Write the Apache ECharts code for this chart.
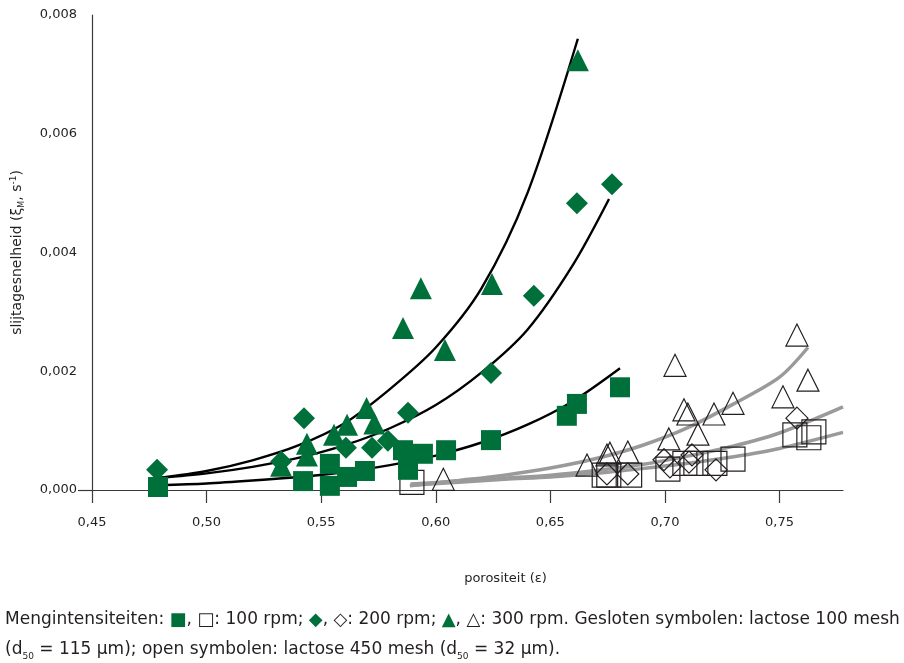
<!DOCTYPE html>
<html>
<head>
<meta charset="utf-8">
<script src="https://cdn.jsdelivr.net/npm/echarts@6/dist/echarts.min.js"></script>
<style>
html,body{margin:0;padding:0;background:#fff;}
#chart{width:904px;height:663px;}
</style>
</head>
<body>
<div id="chart"></div>
<script>
// ---- data (porositeit, slijtagesnelheid) ----
const closedSquares100 = [[0.4788,0.00005],[0.5421,0.00015],[0.5538,0.00044],[0.5538,0.00007],[0.5613,0.00022],[0.5691,0.00032],[0.5857,0.00067],[0.5879,0.00034],[0.5944,0.00061],[0.6045,0.00067],[0.6241,0.00084],[0.6572,0.00125],[0.6616,0.00145],[0.6804,0.00173]];
const closedDiamonds200 = [[0.4784,0.00034],[0.5325,0.00048],[0.5425,0.00121],[0.5608,0.00071],[0.5722,0.00071],[0.5791,0.00083],[0.5879,0.0013],[0.6241,0.00197],[0.6428,0.00327],[0.6616,0.00483],[0.6769,0.00515]];
const closedTriangles300 = [[0.5325,0.00041],[0.5438,0.00058],[0.5438,0.00078],[0.5556,0.00093],[0.5613,0.0011],[0.5698,0.00138],[0.5732,0.00112],[0.5857,0.00273],[0.5935,0.0034],[0.604,0.00236],[0.6245,0.00347],[0.662,0.00724]];
const openSquares100 = [[0.5896,0.00013],[0.6735,0.00025],[0.6755,0.00025],[0.6846,0.00025],[0.7013,0.00035],[0.7087,0.00045],[0.7135,0.00045],[0.7218,0.00045],[0.7297,0.00052],[0.7567,0.00093],[0.7628,0.00088],[0.765,0.00098]];
const openDiamonds200 = [[0.6747,0.00027],[0.6838,0.00027],[0.6996,0.00051],[0.7022,0.00039],[0.7105,0.00047],[0.7118,0.00059],[0.7223,0.00034],[0.7576,0.00121]];
const openTriangles300 = [[0.6033,0.00018],[0.666,0.00042],[0.6747,0.00059],[0.676,0.00062],[0.6838,0.00064],[0.7017,0.00086],[0.7044,0.0021],[0.7083,0.00135],[0.71,0.00128],[0.7144,0.00094],[0.7214,0.00128],[0.7297,0.00146],[0.7515,0.00157],[0.7576,0.00261],[0.7624,0.00185]];

// fitted curves
const fitClosed100 = [[0.4788,0.00008],[0.50,0.00011],[0.52,0.00016],[0.54,0.00022],[0.56,0.0003],[0.58,0.00042],[0.60,0.00058],[0.62,0.0008],[0.64,0.0011],[0.66,0.0015],[0.6804,0.00205]];
const fitClosed200 = [[0.4788,0.0002],[0.50,0.00028],[0.52,0.00039],[0.54,0.00054],[0.56,0.00075],[0.58,0.00104],[0.60,0.00143],[0.62,0.00198],[0.64,0.0027],[0.66,0.0038],[0.6756,0.0049]];
const fitClosed300 = [[0.4788,0.0002],[0.50,0.00032],[0.52,0.0005],[0.54,0.00075],[0.56,0.00112],[0.58,0.0017],[0.60,0.0024],[0.62,0.0034],[0.64,0.005],[0.662,0.0076]];
const fitOpen300 = [[0.5887,0.00007],[0.61,0.00016],[0.63,0.00025],[0.65,0.00037],[0.67,0.00053],[0.69,0.00075],[0.71,0.00105],[0.73,0.00145],[0.75,0.0019],[0.7624,0.0024]];
const fitOpen200 = [[0.589,0.0001],[0.61,0.00015],[0.63,0.0002],[0.65,0.00025],[0.67,0.00033],[0.69,0.00043],[0.71,0.00057],[0.73,0.00074],[0.75,0.00096],[0.7777,0.0014]];
const fitOpen100 = [[0.589,0.00008],[0.61,0.00013],[0.63,0.00018],[0.65,0.00022],[0.67,0.00028],[0.69,0.00036],[0.71,0.00045],[0.73,0.00056],[0.75,0.0007],[0.7777,0.00097]];

const xTicks = [0.45,0.50,0.55,0.60,0.65,0.70,0.75];
const xLabel = 'porositeit (ε)';
const captionLine1 = ['Mengintensiteiten: ', ': 100 rpm; ', ': 200 rpm; ', ': 300 rpm. Gesloten symbolen: lactose 100 mesh'];
const captionLine2 = ['(d', '50', ' = 115 μm); open symbolen: lactose 450 mesh (d', '50', ' = 32 μm).'];

const GREEN = '#00703a';
const INK = '#231f20';
const FONT = 'DejaVu Sans';

const chart = echarts.init(document.getElementById('chart'), null, {renderer:'canvas'});

function scatter(data, symbol, size, filled){
  return {
    type:'scatter', data, symbol, symbolSize:size, z:5,
    itemStyle: filled ? {color:GREEN, opacity:1} : {color:'rgba(0,0,0,0)', borderColor:INK, borderWidth:1.2, opacity:1},
    emphasis:{disabled:true}
  };
}
function curve(data, color, width){
  return {type:'line', data, smooth:0.3, showSymbol:false, z:2,
    lineStyle:{color, width}, emphasis:{disabled:true}};
}

const option = {
  animation:false,
  grid:{left:92, right:61, top:15, bottom:173, containLabel:false},
  xAxis:{
    type:'value', min:0.45, max:0.7777,
    axisLine:{show:true, lineStyle:{color:'#3a3a3a', width:1.2}},
    axisTick:{show:true, length:13, customValues:xTicks, lineStyle:{color:'#3a3a3a', width:1.2}},
    axisLabel:{customValues:xTicks, margin:26, color:INK, fontFamily:FONT, fontSize:13,
      formatter:v=>v.toFixed(2).replace('.',',')},
    splitLine:{show:false},
    name:xLabel, nameLocation:'middle', nameGap:82,
    nameTextStyle:{color:INK, fontFamily:FONT, fontSize:13, padding:[0,0,0,76]}
  },
  yAxis:{
    type:'value', min:0, max:0.008, interval:0.002,
    axisLine:{show:true, lineStyle:{color:'#3a3a3a', width:1.2}},
    axisTick:{show:true, length:14, customValues:[0], lineStyle:{color:'#3a3a3a', width:1.2}},
    axisLabel:{margin:15, color:INK, fontFamily:FONT, fontSize:13,
      formatter:v=>v.toFixed(3).replace('.',',')},
    splitLine:{show:false},
    name:'{a|slijtagesnelheid (ξ}{s|M}{a|, s}{p|-1}{a|)}',
    nameLocation:'middle', nameGap:66, nameRotate:90,
    nameTextStyle:{color:INK, fontFamily:FONT, fontSize:14,
      rich:{
        a:{fontFamily:FONT, fontSize:14, color:INK, lineHeight:17},
        s:{fontFamily:FONT, fontSize:8, color:INK, verticalAlign:'bottom', lineHeight:17},
        p:{fontFamily:FONT, fontSize:9, color:INK, verticalAlign:'top', lineHeight:17}
      }}
  },
  graphic:[
    {type:'text', left:5, top:611, silent:true,
      style:{text:'{t|'+captionLine1[0]+'}{g|■}{t|, }{o|□}{t|'+captionLine1[1]+'}{g|◆}{t|, }{o|◇}{t|'+captionLine1[2]+'}{g|▲}{t|, }{o|△}{t|'+captionLine1[3]+'}',
        rich:{
          t:{fontFamily:FONT, fontSize:17, fill:INK, lineHeight:23},
          g:{fontFamily:FONT, fontSize:18, fill:GREEN, lineHeight:23},
          o:{fontFamily:FONT, fontSize:18, fill:INK, lineHeight:23}
        }}},
    {type:'text', left:5, top:641, silent:true,
      style:{text:'{t|'+captionLine2[0]+'}{s|'+captionLine2[1]+'}{t|'+captionLine2[2]+'}{s|'+captionLine2[3]+'}{t|'+captionLine2[4]+'}',
        rich:{
          t:{fontFamily:FONT, fontSize:17, fill:INK, lineHeight:23},
          s:{fontFamily:FONT, fontSize:9, fill:INK, lineHeight:23, verticalAlign:'bottom'}
        }}}
  ],
  series:[
    curve(fitOpen300, '#9a9a9a', 3.5),
    curve(fitOpen200, '#9a9a9a', 3.5),
    curve(fitOpen100, '#9a9a9a', 3.5),
    curve(fitClosed100, '#000', 2.4),
    curve(fitClosed200, '#000', 2.4),
    curve(fitClosed300, '#000', 2.4),
    scatter(openTriangles300, 'triangle', 22, false),
    scatter(openDiamonds200, 'diamond', 22, false),
    scatter(openSquares100, 'rect', 24, false),
    scatter(closedSquares100, 'rect', 20, true),
    scatter(closedDiamonds200, 'diamond', 22, true),
    scatter(closedTriangles300, 'triangle', 22, true)
  ]
};
chart.setOption(option);
</script>
</body>
</html>
